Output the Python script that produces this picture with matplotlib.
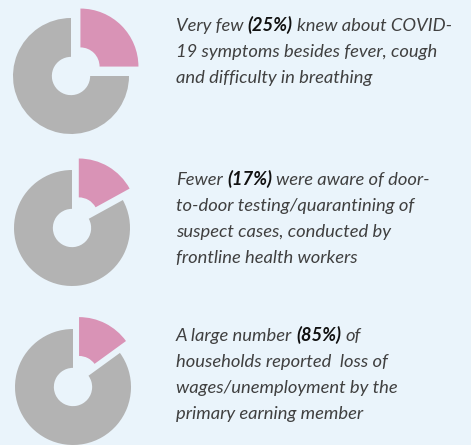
import matplotlib
matplotlib.use("Agg")
import matplotlib.pyplot as plt

W, H = 471, 445
DPI = 100

# ---- data ----
highlight_pct = [25, 17, 15]          # pink slice share
rest_pct = [75, 83, 85]               # grey remainder
key_figures = ["(25%)", "(17%)", "(85%)"]
text_lines = [
    [["Very few ", "(25%)", " knew about COVID-"],
     ["19 symptoms besides fever, cough"],
     ["and difficulty in breathing"]],
    [["Fewer ", "(17%)", " were aware of door-"],
     ["to-door testing/quarantining of"],
     ["suspect cases, conducted by"],
     ["frontline health workers"]],
    [["A large number ", "(85%)", " of"],
     ["households reported  loss of"],
     ["wages/unemployment by the"],
     ["primary earning member"]],
]

BG = "#eaf4fb"
PINK = "#d993b6"
GREY = "#b3b3b3"
TXT = "#404040"

fig = plt.figure(figsize=(W / DPI, H / DPI), dpi=DPI)
fig.patch.set_facecolor(BG)

centers = [(71, 76), (72, 228), (73, 387)]
radius_px = 58
R = 82
for (cx, cy), hp, rp in zip(centers, highlight_pct, rest_pct):
    ax = fig.add_axes([(cx - R) / W, (H - cy - R) / H, 2 * R / W, 2 * R / H])
    ax.pie([hp, rp], colors=[PINK, GREY], startangle=90, counterclock=False,
           explode=[0.23, 0], wedgeprops=dict(width=0.67, linewidth=0))
    k = R / radius_px
    ax.set_xlim(-k, k)
    ax.set_ylim(-k, k)
    ax.set_aspect("auto")
    ax.axis("off")

# ---- text ----
renderer = fig.canvas.get_renderer()
FS = 13.2
FAM = ["Lato", "DejaVu Sans"]


def tw(s, weight):
    t = fig.text(0, 0, s, fontsize=FS, family=FAM, style="italic", weight=weight)
    w = t.get_window_extent(renderer).width
    t.remove()
    return w


baselines = [[31, 57, 83], [185, 211, 237, 263], [341, 367, 393, 419]]
x0 = 176
for block, bls in zip(text_lines, baselines):
    for segs, yb in zip(block, bls):
        x = x0
        for s in segs:
            bold = s in key_figures
            weight = "bold" if bold else "normal"
            lead = len(s) - len(s.lstrip(" "))
            trail = len(s) - len(s.rstrip(" "))
            core = s.strip(" ")
            sp = tw("x x", weight) - tw("xx", weight)
            x += lead * sp
            fig.text(x / W, 1 - yb / H, core, fontsize=FS, family=FAM, style="italic",
                     weight=weight, color="#111111" if bold else TXT, va="baseline", ha="left")
            x += tw(core, weight) + trail * sp

fig.savefig("out.png", dpi=DPI, facecolor=BG)
